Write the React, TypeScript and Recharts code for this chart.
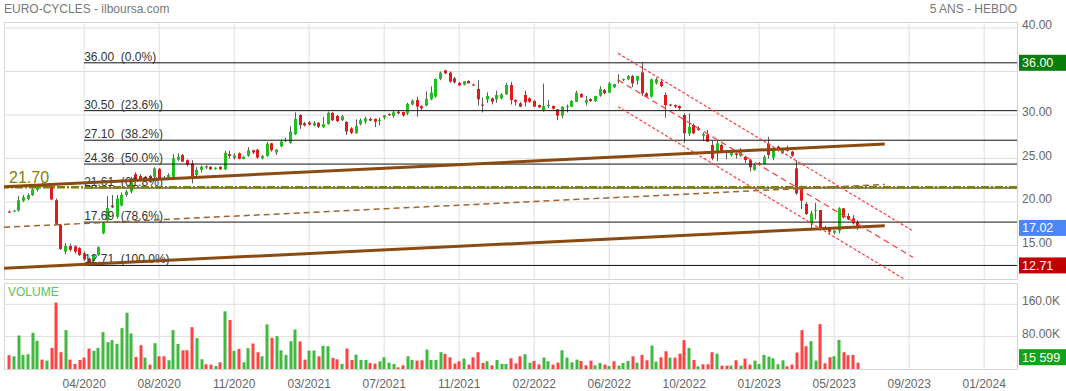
import React from "react";
import { ComposedChart, Bar, XAxis, YAxis, CartesianGrid, ReferenceLine } from "recharts";

const FONT = "Arial, 'Liberation Sans', sans-serif";
const W = 1066;
const X_DOMAIN: [number, number] = [-1.1, 215];
const PRICE_DOMAIN: [number, number] = [11.15, 40.69];
const VOL_DOMAIN: [number, number] = [0, 212.7];

// weekly candles: [open, high, low, close]
const ohlc: number[][] = [
  [18.9, 19.0, 18.75, 18.85], [18.95, 19.1, 18.9, 19.0], [19.0, 20.7, 18.9, 20.2], [20.15, 20.8, 20.0, 20.55],
  [20.35, 21.0, 20.2, 20.8], [20.8, 21.8, 20.7, 21.45], [21.4, 22.0, 21.2, 21.85], [22.0, 22.2, 21.7, 21.8],
  [21.85, 22.0, 21.7, 21.9], [21.8, 21.9, 20.2, 20.3], [20.2, 20.4, 17.4, 17.5], [17.4, 17.45, 14.5, 14.6],
  [14.3, 15.3, 14.0, 14.95], [14.95, 15.2, 14.3, 14.5], [14.9, 15.0, 14.1, 14.3], [14.7, 14.8, 13.8, 13.9],
  [14.1, 14.3, 13.2, 13.4], [13.5, 13.6, 12.71, 13.0], [13.2, 14.0, 12.9, 13.9], [13.9, 14.9, 13.8, 14.8],
  [16.4, 17.7, 16.3, 17.6], [17.9, 20.7, 17.8, 19.3], [19.6, 20.8, 19.3, 19.4], [18.3, 20.8, 18.1, 20.4],
  [19.6, 21.1, 19.5, 20.8], [20.8, 21.4, 20.6, 21.2], [21.2, 22.9, 21.0, 22.7], [23.2, 23.4, 22.4, 22.6],
  [23.0, 23.2, 22.4, 22.55], [22.9, 23.0, 22.4, 22.6], [23.0, 23.1, 22.3, 22.4], [22.9, 24.0, 22.7, 23.85],
  [23.8, 23.9, 22.6, 22.72], [22.75, 23.0, 22.5, 22.65], [22.8, 23.3, 22.6, 23.1], [22.9, 25.5, 22.8, 25.0],
  [24.85, 25.6, 24.7, 25.2], [25.4, 25.5, 24.6, 24.65], [24.8, 24.9, 24.1, 24.3], [24.45, 24.8, 22.15, 22.72],
  [23.1, 24.0, 22.9, 23.7], [23.7, 24.2, 23.4, 24.05], [24.1, 24.2, 23.8, 24.0], [24.05, 24.1, 23.7, 23.75],
  [23.8, 24.0, 23.7, 23.95], [24.05, 24.1, 23.7, 23.75], [23.75, 25.9, 23.7, 25.65], [25.5, 25.9, 25.0, 25.3],
  [25.05, 25.6, 24.9, 25.35], [25.6, 25.7, 24.9, 24.95], [24.95, 25.3, 24.9, 25.2], [25.3, 26.3, 25.2, 25.95],
  [25.95, 26.0, 25.5, 25.7], [26.0, 26.1, 25.0, 25.1], [25.0, 25.4, 24.9, 25.3], [25.3, 26.9, 25.2, 26.7],
  [26.75, 26.8, 25.8, 25.95], [25.7, 26.1, 25.4, 26.0], [26.4, 27.2, 26.3, 26.95], [27.05, 27.4, 26.9, 27.1],
  [26.8, 28.7, 26.7, 28.1], [27.8, 30.3, 27.7, 29.55], [30.0, 30.1, 28.4, 28.85], [29.05, 29.2, 28.7, 28.8],
  [29.15, 29.3, 28.8, 28.9], [28.8, 29.3, 28.7, 29.1], [29.1, 29.2, 28.5, 28.65], [28.6, 29.8, 28.5, 28.95],
  [28.95, 30.4, 28.9, 30.25], [30.25, 30.3, 29.3, 29.4], [29.9, 30.0, 29.2, 29.3], [29.4, 30.0, 29.3, 29.85],
  [29.2, 29.3, 27.7, 28.1], [28.45, 28.6, 27.8, 27.95], [27.9, 29.5, 27.85, 28.75], [28.95, 29.6, 28.8, 29.4],
  [29.25, 29.8, 29.0, 29.6], [29.55, 29.7, 29.3, 29.35], [29.55, 29.6, 28.6, 29.23], [29.3, 29.7, 28.8, 29.42],
  [29.69, 30.0, 29.5, 29.96], [30.1, 30.2, 29.9, 29.98], [29.9, 30.5, 29.7, 30.31], [30.38, 30.5, 30.1, 30.19],
  [30.34, 30.4, 29.8, 29.96], [30.19, 31.4, 30.0, 31.26], [31.23, 31.8, 31.1, 31.65], [31.72, 32.1, 29.8, 30.96],
  [31.03, 31.1, 30.6, 30.77], [31.07, 32.7, 31.0, 31.84], [31.8, 33.3, 31.7, 32.57], [32.11, 34.2, 32.0, 34.14],
  [34.14, 35.0, 34.0, 34.87], [35.13, 35.2, 34.7, 34.79], [34.87, 35.0, 33.7, 33.83], [34.21, 34.4, 33.6, 33.75],
  [33.68, 33.8, 33.3, 33.41], [33.49, 33.9, 33.4, 33.87], [33.91, 34.0, 33.6, 33.64], [33.5, 33.6, 33.4, 33.45],
  [32.99, 34.0, 31.1, 31.8], [31.2, 32.0, 30.3, 31.15], [31.8, 32.6, 31.4, 32.18], [31.92, 32.0, 31.2, 31.53],
  [31.8, 32.8, 31.4, 32.3], [31.91, 32.5, 31.8, 32.37], [32.37, 33.7, 32.3, 33.45], [33.45, 33.8, 31.2, 31.72],
  [31.72, 31.8, 31.1, 31.53], [31.34, 31.5, 30.9, 30.96], [32.3, 32.8, 31.0, 31.46], [31.92, 32.0, 31.4, 31.53],
  [31.61, 31.7, 30.9, 30.96], [31.15, 31.2, 30.8, 30.88], [30.57, 33.6, 30.4, 31.03], [31.1, 31.7, 30.8, 31.15],
  [31.03, 31.1, 30.6, 30.73], [30.65, 30.7, 29.4, 29.92], [29.92, 31.0, 29.6, 30.96], [30.96, 31.2, 30.3, 31.0],
  [30.96, 31.7, 30.9, 31.61], [31.53, 32.8, 31.5, 32.57], [32.41, 32.5, 32.0, 32.03], [31.42, 32.2, 31.1, 31.72],
  [31.84, 31.9, 31.5, 31.61], [31.61, 32.2, 31.5, 32.18], [32.22, 33.3, 32.1, 32.99], [32.87, 33.0, 32.4, 32.49],
  [32.57, 33.8, 32.5, 33.64], [33.18, 33.6, 33.1, 33.56], [34.0, 34.7, 33.6, 34.05], [34.1, 34.2, 33.9, 34.12],
  [34.1, 34.6, 34.0, 34.48], [34.48, 34.6, 33.2, 33.64], [33.95, 34.5, 33.5, 34.48], [34.9, 36.0, 32.2, 32.49],
  [32.49, 32.6, 32.0, 32.11], [32.11, 34.2, 32.0, 34.1], [33.64, 34.3, 33.5, 34.1], [33.83, 34.0, 33.2, 33.33],
  [32.3, 32.6, 29.7, 31.15], [31.2, 31.3, 31.0, 31.15], [31.15, 31.2, 30.8, 30.96], [31.03, 31.1, 30.6, 30.77],
  [30.0, 30.2, 26.8, 27.9], [27.85, 30.2, 27.6, 28.65], [28.85, 29.0, 27.8, 27.9], [28.47, 28.7, 28.2, 28.28],
  [27.62, 28.0, 27.0, 27.82], [27.7, 28.3, 26.9, 26.94], [26.55, 27.0, 24.8, 25.02], [25.79, 27.0, 24.7, 26.74],
  [26.55, 26.7, 25.7, 25.79], [25.8, 25.9, 24.9, 25.75], [25.4, 26.0, 25.2, 25.79], [25.6, 25.7, 25.0, 25.4],
  [25.29, 26.2, 25.2, 25.79], [25.21, 25.3, 24.5, 24.83], [24.83, 24.9, 23.5, 23.99], [23.68, 24.4, 23.6, 24.25],
  [24.4, 24.6, 24.2, 24.45], [24.37, 25.4, 24.3, 25.21], [26.74, 27.5, 25.0, 25.4], [25.1, 26.3, 24.8, 25.9],
  [26.36, 26.5, 25.8, 26.05], [25.6, 26.2, 25.5, 26.09], [26.17, 26.5, 25.8, 25.9], [25.79, 25.9, 25.2, 25.33],
  [23.87, 24.8, 20.8, 21.0], [21.57, 21.9, 19.2, 20.15], [19.77, 20.0, 18.5, 18.62], [17.63, 19.0, 17.0, 18.7],
  [19.0, 19.9, 18.0, 19.08], [19.08, 19.1, 16.7, 16.97], [17.05, 17.3, 16.8, 16.9], [17.09, 17.1, 16.4, 16.59],
  [16.47, 16.75, 16.3, 16.7], [16.7, 19.4, 16.4, 19.27], [19.27, 19.3, 18.1, 18.24], [18.39, 18.7, 17.9, 18.0],
  [18.12, 18.5, 17.4, 17.55], [17.66, 17.9, 16.8, 17.02],
];

// weekly volume, thousands of shares
const volumeK = [
  34.0, 31.5, 82.9, 34.8, 36.5, 89.5, 69.6, 23.2, 20.7, 52.2,
  164.1, 41.5, 96.2, 23.2, 12.4, 22.4, 28.2, 50.6, 44.8, 52.2,
  91.2, 66.3, 71.3, 62.2, 101.1, 139.3, 87.9, 29.8, 58.9, 28.2,
  10.8, 63.8, 31.5, 31.5, 21.6, 96.2, 62.2, 46.4, 46.4, 103.6,
  76.3, 24.0, 11.6, 10.8, 7.5, 16.6, 142.6, 121.0, 44.8, 49.7,
  16.6, 51.4, 63.0, 41.5, 31.5, 110.3, 77.1, 81.2, 46.4, 34.8,
  68.8, 97.8, 68.0, 23.2, 45.6, 45.6, 31.5, 57.2, 56.4, 27.4,
  24.0, 12.4, 50.6, 22.4, 35.6, 22.4, 22.4, 14.9, 13.3, 19.1,
  29.0, 15.8, 12.4, 4.1, 9.1, 31.5, 22.4, 20.7, 21.6, 48.1,
  22.4, 22.4, 41.5, 37.3, 29.0, 13.3, 19.1, 25.7, 10.8, 29.0,
  41.5, 14.9, 19.1, 9.1, 22.4, 12.4, 12.4, 26.5, 14.1, 31.5,
  36.5, 15.8, 19.9, 11.6,
  28.2, 19.1, 10.8, 15.8, 46.4, 28.2, 16.6, 23.2, 19.9, 9.1,
  20.7, 9.1, 14.9, 10.8, 7.5, 19.1, 8.3, 14.9, 19.9, 31.5,
  15.8, 34.8, 21.6, 58.0, 18.2, 29.0, 43.9, 28.2, 28.2, 38.1,
  71.3, 52.2, 22.4, 6.6, 11.6, 11.6, 41.5, 38.1, 8.3, 8.3,
  8.3, 21.6, 8.3, 25.7, 10.8, 20.7, 12.4, 34.8, 30.7,
  26.6, 11.7, 21.6, 6.7, 10.9, 40.7, 96.1, 56.4, 68.8, 20.9,
  111.0, 14.2, 29.1, 31.5, 72.0, 41.5, 34.0, 34.8, 15.6,
];

const dateTickIdx = [16, 32, 48, 64, 80, 96, 112, 128, 144, 160, 176, 192, 208];
const dateLabels = ["04/2020", "08/2020", "11/2020", "03/2021", "07/2021", "11/2021", "02/2022",
  "06/2022", "10/2022", "01/2023", "05/2023", "09/2023", "01/2024"];
const priceTicks = [15, 20, 25, 30, 35, 40];
const priceHiddenTicks = [35]; // sits under the 36.00 tag
const volTicks = [0, 80, 160];
const volTickLabels = ["", "80.00K", "160.0K"]; // 0 label sits under the last-volume tag

const fibLevels = [36.0, 30.5, 27.1, 24.36, 21.61, 17.69, 12.71];
const fibPcts = ["0.0%", "23.6%", "38.2%", "50.0%", "61.8%", "78.6%", "100.0%"];
const fibStart = 16;
const pivotLevel = 21.7;
const lastClose = 17.02;
const lastVolume = 15599;

// drawn trend lines, [x index, price]
const brownUpper = [[-1.1, 21.76], [186.8, 26.67]];
const brownLower = [[-1.1, 12.38], [186.8, 17.28]];
const brownDashed = [[-1.1, 17.09], [186.8, 22.02]];
const channelTop = [[129.9, 37.09], [192.8, 16.67]];
const channelMid = [[129.9, 34.02], [192.8, 13.64]];
const channelLow = [[129.9, 30.95], [192.8, 10.54]];

const GREEN = "#1fbf1f";
const RED = "#e01b1b";
const VOL_GREEN = "#3fb93f";
const VOL_RED = "#ff4242";

const rows = ohlc.map(([o, h, l, c], i) => ({
  i, o, h, l, c,
  range: [l, h],
  vol: volumeK[i],
  volUp: i === 0 ? c >= o : c >= ohlc[i - 1][3],
}));

const seg = (pts: number[][]) => pts.map(([x, y]) => ({ x, y }));

function Candle(props: any) {
  const { x, y, width, height, payload } = props;
  if (x == null || y == null) return null;
  const top = Math.min(y, y + height);
  const hh = Math.abs(height);
  const cx = Math.round(x + width / 2) + 0.5;
  const span = payload.h - payload.l || 1;
  const py = (v: number) => top + ((payload.h - v) / span) * hh;
  const yo = py(payload.o);
  const yc = py(payload.c);
  const bTop = Math.min(yo, yc);
  const bH = Math.max(1, Math.abs(yo - yc));
  return (
    <g>
      <line x1={cx} x2={cx} y1={top} y2={top + hh} stroke="#5a5a5a" strokeWidth={1} />
      <rect x={cx - 1.5} y={bTop} width={3} height={bH} fill={payload.c >= payload.o ? GREEN : RED} />
    </g>
  );
}

function VolBar(props: any) {
  const { x, y, width, height, payload } = props;
  if (x == null || !height) return null;
  const cx = Math.round(x + width / 2);
  return <rect x={cx - 1.5} y={y} width={3} height={height} fill={payload.volUp ? VOL_GREEN : VOL_RED} />;
}

const PriceTick = (props: any) => {
  const { y, payload } = props;
  if (priceHiddenTicks.includes(payload.value)) return <g />;
  return (
    <text x={1022} y={y - 3} dominantBaseline="central" fontSize={12} fill="#666" fontFamily={FONT}>
      {Number(payload.value).toFixed(2)}
    </text>
  );
};

const VolTick = (props: any) => {
  const { y, payload } = props;
  const label = volTickLabels[volTicks.indexOf(payload.value)];
  if (!label) return <g />;
  return (
    <text x={1022} y={y - 3} dominantBaseline="central" fontSize={12} fill="#666" fontFamily={FONT}>
      {label}
    </text>
  );
};

const DateTick = (props: any) => {
  const { x, y, payload } = props;
  const k = dateTickIdx.indexOf(payload.value);
  return (
    <text x={x} y={y + 11} textAnchor="middle" fontSize={12} fill="#666" fontFamily={FONT}>
      {dateLabels[k]}
    </text>
  );
};

function tagBox(vx: number, vy: number, text: string, bg: string, dy = -8) {
  return (
    <g>
      <rect x={vx + 2} y={vy + dy} width={W - vx - 2} height={16} fill={bg} />
      <text x={vx + 5} y={vy + dy + 12.5} fontSize={12.5} fill="#fff" fontFamily={FONT}>{text}</text>
    </g>
  );
}

const fibLabel = (text: string, tag?: { text: string; bg: string }) => (p: any) => {
  const vb = p.viewBox || {};
  return (
    <g>
      <text x={vb.x} y={vb.y - 2} fontSize={12} fill="#333" fontFamily={FONT} style={{ whiteSpace: "pre" }}>
        {text}
      </text>
      {tag && tagBox(vb.x + vb.width, vb.y, tag.text, tag.bg)}
    </g>
  );
};

const pivotLabel = (p: any) => {
  const vb = p.viewBox || {};
  return (
    <text x={vb.x + 5} y={vb.y - 4} fontSize={16} fill="#808000" fontFamily={FONT}>
      {pivotLevel.toFixed(2)}
    </text>
  );
};

const lastLabel = (p: any) => {
  const vb = p.viewBox || {};
  return tagBox(vb.x + vb.width, vb.y, lastClose.toFixed(2), "#4a87f5");
};

const volLabel = (p: any) => {
  const vb = p.viewBox || {};
  const txt = String(lastVolume).replace(/\B(?=(\d{3})+(?!\d))/g, " ");
  return tagBox(vb.x + vb.width, vb.y, txt, "#14a314", -13.5);
};

const tagFor = (lvl: number) =>
  lvl === fibLevels[0] ? { text: lvl.toFixed(2), bg: "#0a7d0a" }
    : lvl === fibLevels[fibLevels.length - 1] ? { text: lvl.toFixed(2), bg: "#bf0000" } : undefined;

export default function App() {
  return (
    <div style={{ position: "absolute", left: 0, top: 0, width: W, height: 391, background: "#fff", fontFamily: FONT }}>
      <div style={{ position: "absolute", left: 4, top: 2, fontSize: 12, color: "#777" }}>EURO-CYCLES - ilboursa.com</div>
      <div style={{ position: "absolute", right: 49, top: 2, fontSize: 12, color: "#777" }}>5 ANS - HEBDO</div>
      <div style={{ position: "absolute", left: 4, top: 22, width: 1014, height: 258, border: "1px solid #d4d4d4", boxSizing: "border-box" }} />
      <div style={{ position: "absolute", left: 4, top: 283, width: 1014, height: 87, border: "1px solid #d4d4d4", boxSizing: "border-box" }} />

      <div style={{ position: "absolute", left: 0, top: 0 }}>
        <ComposedChart width={W} height={280} data={rows} margin={{ top: 22, right: 0, bottom: 1, left: 4 }}>
          <CartesianGrid stroke="#dedede" horizontalValues={priceTicks} verticalValues={dateTickIdx} />
          <XAxis type="number" dataKey="i" domain={X_DOMAIN} ticks={dateTickIdx} allowDataOverflow hide />
          <YAxis orientation="right" width={49} domain={PRICE_DOMAIN} ticks={priceTicks} allowDataOverflow
            axisLine={false} tickLine={false} tick={PriceTick} />
          <Bar dataKey="range" barSize={5} isAnimationActive={false} shape={(p: any) => <Candle {...p} />} />
          {fibLevels.map((lvl, k) => (
            <ReferenceLine key={"fib" + k} ifOverflow="visible" stroke="#111" strokeWidth={1}
              segment={[{ x: fibStart, y: lvl }, { x: X_DOMAIN[1], y: lvl }]}
              label={fibLabel(`${lvl.toFixed(2)}  (${fibPcts[k]})`, tagFor(lvl))} />
          ))}
          <ReferenceLine y={pivotLevel} stroke="#808000" strokeWidth={2.5} strokeDasharray="8 2 2 2" label={pivotLabel} />
          <ReferenceLine segment={seg(brownDashed)} ifOverflow="hidden" stroke="#9c6530" strokeWidth={1.5} strokeDasharray="6 4" />
          <ReferenceLine segment={seg(brownUpper)} ifOverflow="hidden" stroke="#8a4a12" strokeWidth={3} />
          <ReferenceLine segment={seg(brownLower)} ifOverflow="hidden" stroke="#8a4a12" strokeWidth={3} />
          <ReferenceLine segment={seg(channelTop)} ifOverflow="hidden" stroke="#ff3b3b" strokeWidth={1.2} strokeDasharray="3 2" />
          <ReferenceLine segment={seg(channelMid)} ifOverflow="hidden" stroke="#ff3b3b" strokeWidth={1.2} strokeDasharray="6 4" />
          <ReferenceLine segment={seg(channelLow)} ifOverflow="hidden" stroke="#ff3b3b" strokeWidth={1.2} strokeDasharray="3 2" />
          <ReferenceLine y={lastClose} stroke="none" label={lastLabel} />
        </ComposedChart>
      </div>

      <div style={{ position: "absolute", left: 0, top: 280 }}>
        <ComposedChart width={W} height={111} data={rows} margin={{ top: 3, right: 0, bottom: 0, left: 4 }}>
          <CartesianGrid stroke="#dedede" horizontalValues={[80, 160]} verticalValues={dateTickIdx} />
          <XAxis type="number" dataKey="i" domain={X_DOMAIN} ticks={dateTickIdx} allowDataOverflow height={22}
            axisLine={false} tickLine={false} tick={DateTick} />
          <YAxis orientation="right" width={49} domain={VOL_DOMAIN} ticks={volTicks} allowDataOverflow
            axisLine={false} tickLine={false} tick={VolTick} />
          <Bar dataKey="vol" barSize={3} isAnimationActive={false} shape={(p: any) => <VolBar {...p} />} />
          <ReferenceLine y={volumeK[volumeK.length - 1]} stroke="none" label={volLabel} />
        </ComposedChart>
      </div>
      <div style={{ position: "absolute", left: 8, top: 285, fontSize: 12, color: "#5cc35c" }}>VOLUME</div>
    </div>
  );
}
